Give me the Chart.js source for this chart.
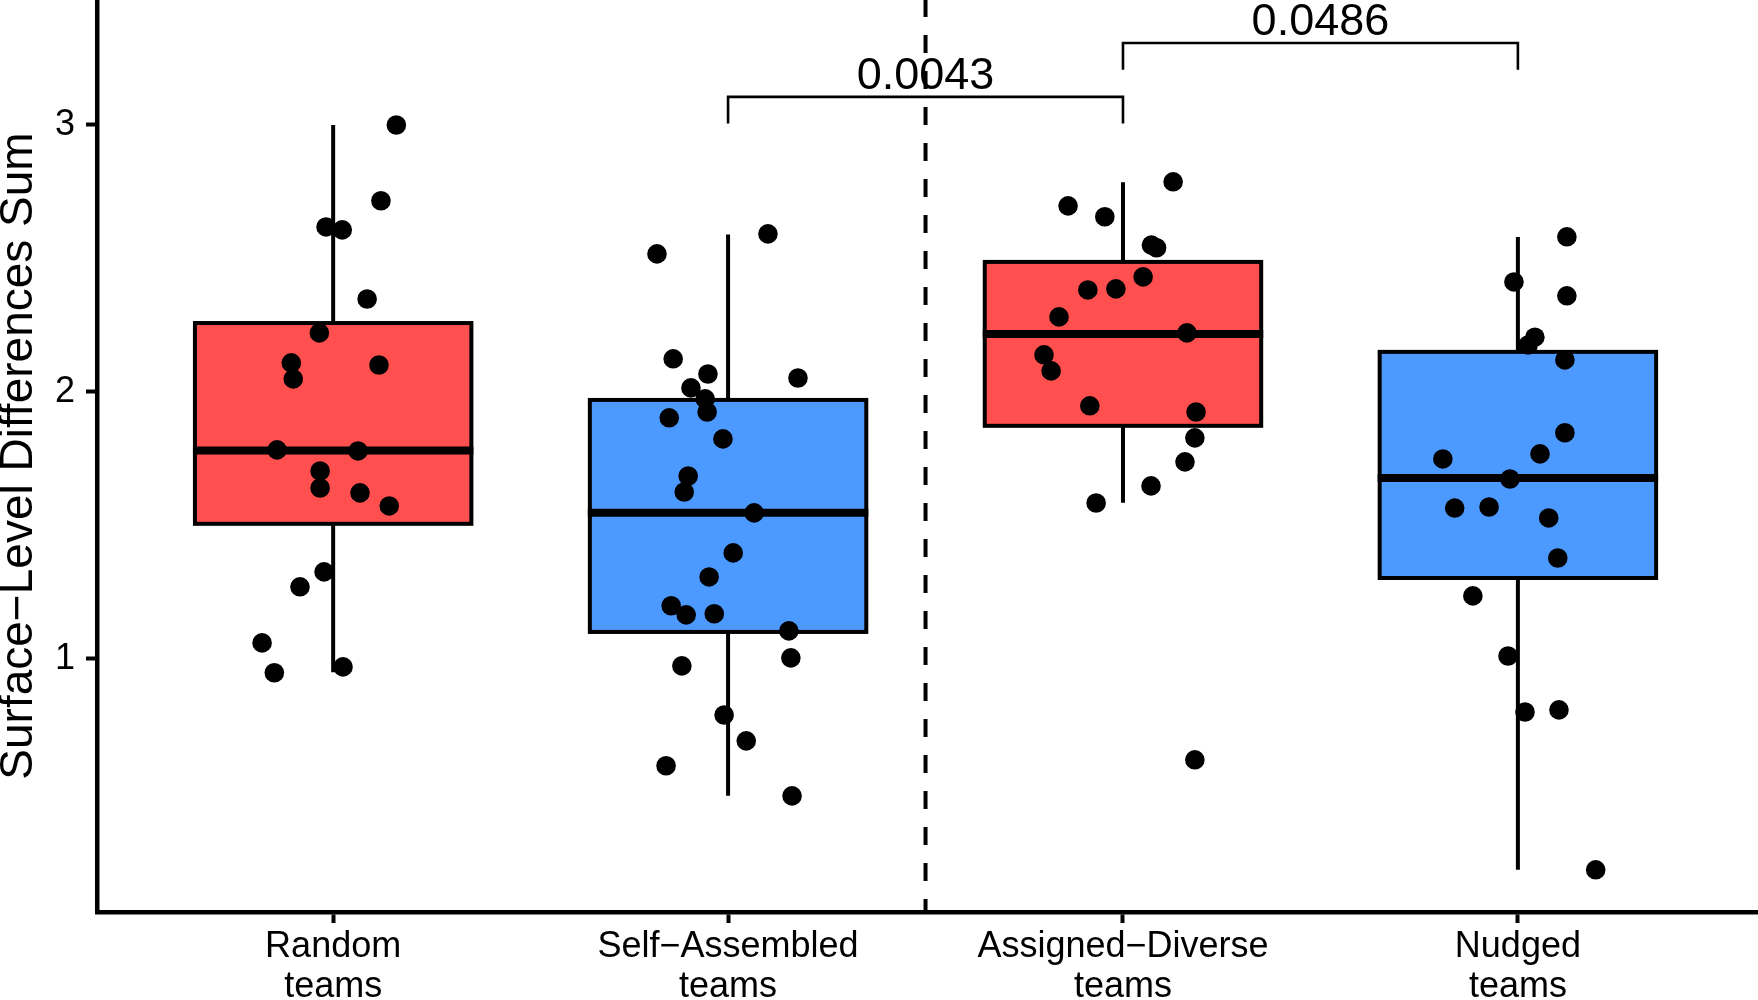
<!DOCTYPE html>
<html>
<head>
<meta charset="utf-8">
<script src="https://cdn.jsdelivr.net/npm/chart.js@4.4.1/dist/chart.umd.min.js"></script>
<style>
html,body{margin:0;padding:0;background:#fff;}
canvas{display:block;}
</style>
</head>
<body>
<canvas id="c" width="1758" height="1000"></canvas>
<script>
// ---------------- DATA ----------------
const categories = [
  ["Random", "teams"],
  ["Self\u2212Assembled", "teams"],
  ["Assigned\u2212Diverse", "teams"],
  ["Nudged", "teams"]
];
const xTicks = [1, 2, 3, 4];
const yTicks = [1, 2, 3];
const yAxisTitle = "Surface\u2212Level Differences Sum";

// box statistics
const whiskerLow  = [0.950, 0.487, 1.585, 0.210];
const q1          = [1.506, 1.101, 1.873, 1.303];
const median      = [1.781, 1.547, 2.217, 1.678];
const q3          = [2.258, 1.970, 2.487, 2.150];
const whiskerHigh = [3.000, 2.590, 2.785, 2.580];

// observed values per group
const randomValues = [3.00, 2.716, 2.618, 2.607, 2.348, 2.221, 2.109, 2.049, 2.101, 1.783,
                      1.779, 1.704, 1.640, 1.622, 1.573, 1.326, 1.270, 1.060, 0.948, 0.970];
const selfAssembledValues = [2.592, 2.517, 2.124, 2.067, 2.052, 2.015, 1.974, 1.925, 1.903, 1.824,
                             1.685, 1.625, 1.547, 1.397, 1.307, 1.199, 1.165, 1.169, 1.105, 1.004,
                             0.974, 0.790, 0.693, 0.600, 0.487];
const assignedDiverseValues = [2.787, 2.697, 2.656, 2.550, 2.540, 2.431, 2.382, 2.386, 2.281, 2.221,
                               2.139, 2.079, 1.948, 1.925, 1.828, 1.738, 1.648, 1.584, 0.622];
const nudgedValues = [2.581, 2.412, 2.360, 2.205, 2.176, 2.120, 1.847, 1.768, 1.749, 1.674,
                      1.565, 1.569, 1.528, 1.378, 1.236, 1.011, 0.801, 0.809, 0.210];

// horizontal jitter of each point (category units)
const randomJitter = [0.16, 0.121, -0.018, 0.023, 0.086, -0.035, -0.106, -0.101, 0.116, -0.142,
                      0.063, -0.033, -0.033, 0.068, 0.142, -0.023, -0.084, -0.18, -0.149, 0.025];
const selfAssembledJitter = [0.101, -0.18, -0.139, -0.051, 0.177, -0.094, -0.058, -0.053, -0.149, -0.013,
                             -0.101, -0.111, 0.066, 0.013, -0.048, -0.144, -0.106, -0.035, 0.154, 0.159,
                             -0.117, -0.01, 0.046, -0.157, 0.162];
const assignedDiverseJitter = [0.127, -0.139, -0.046, 0.072, 0.085, 0.051, -0.089, -0.018, -0.162, 0.162,
                               -0.2, -0.182, -0.084, 0.185, 0.182, 0.157, 0.071, -0.068, 0.182];
const nudgedJitter = [0.124, -0.01, 0.124, 0.043, 0.026, 0.119, 0.119, 0.056, -0.19, -0.02,
                      -0.16, -0.073, 0.078, 0.101, -0.114, -0.025, 0.018, 0.104, 0.197];

// significance brackets
const bracketFrom   = [2, 3];
const bracketTo     = [3, 4];
const bracketY      = [3.105, 3.307];
const bracketLabels = ["0.0043", "0.0486"];

const separatorAt = 2.5;
const yMin = 0.052, yMax = 3.468;
const xMin = 0.402, xMax = 4.608;

// ---------------- STYLE ----------------
const groupColors = ["#FF4F4F", "#4C9AFF", "#FF4F4F", "#4C9AFF"];
const FONT = "'Liberation Sans', Arial, Helvetica, sans-serif";
const boxHalfWidth = 0.35;
const bracketTick = 0.1;

const groupValues = [randomValues, selfAssembledValues, assignedDiverseValues, nudgedValues];
const groupJitter = [randomJitter, selfAssembledJitter, assignedDiverseJitter, nudgedJitter];

const boxPlugin = {
  id: 'boxes',
  beforeDatasetsDraw(chart) {
    const {ctx, chartArea} = chart;
    const x = chart.scales.x, y = chart.scales.y;
    ctx.save();
    // dashed separator
    ctx.strokeStyle = '#000';
    ctx.lineWidth = 4;
    ctx.lineCap = 'butt';
    ctx.setLineDash([18, 18]);
    ctx.lineDashOffset = 1;
    const sx = x.getPixelForValue(separatorAt);
    ctx.beginPath();
    ctx.moveTo(sx, chartArea.top);
    ctx.lineTo(sx, chartArea.bottom);
    ctx.stroke();
    ctx.setLineDash([]);

    for (let i = 0; i < categories.length; i++) {
      const c = xTicks[i];
      const cx = x.getPixelForValue(c);
      const xl = x.getPixelForValue(c - boxHalfWidth);
      const xr = x.getPixelForValue(c + boxHalfWidth);
      const yq1 = y.getPixelForValue(q1[i]);
      const yq3 = y.getPixelForValue(q3[i]);
      const ym = y.getPixelForValue(median[i]);
      const ylo = y.getPixelForValue(whiskerLow[i]);
      const yhi = y.getPixelForValue(whiskerHigh[i]);
      // whiskers
      ctx.strokeStyle = '#000';
      ctx.lineWidth = 4;
      ctx.beginPath();
      ctx.moveTo(cx, yhi); ctx.lineTo(cx, yq3);
      ctx.moveTo(cx, yq1); ctx.lineTo(cx, ylo);
      ctx.stroke();
      // box
      ctx.fillStyle = groupColors[i];
      ctx.fillRect(xl, yq3, xr - xl, yq1 - yq3);
      ctx.lineJoin = 'miter';
      ctx.strokeRect(xl, yq3, xr - xl, yq1 - yq3);
      // median
      ctx.lineWidth = 8;
      ctx.beginPath();
      ctx.moveTo(xl - 2, ym); ctx.lineTo(xr + 2, ym);
      ctx.stroke();
    }
    ctx.restore();
  },
  afterDatasetsDraw(chart) {
    const {ctx} = chart;
    const x = chart.scales.x, y = chart.scales.y;
    ctx.save();
    ctx.strokeStyle = '#000';
    ctx.fillStyle = '#000';
    ctx.lineWidth = 2.6;
    ctx.lineJoin = 'miter';
    ctx.font = "45px " + FONT;
    ctx.textAlign = 'center';
    ctx.textBaseline = 'alphabetic';
    for (let k = 0; k < bracketLabels.length; k++) {
      const x1 = x.getPixelForValue(bracketFrom[k]);
      const x2 = x.getPixelForValue(bracketTo[k]);
      const yb = y.getPixelForValue(bracketY[k]);
      const yt = y.getPixelForValue(bracketY[k] - bracketTick);
      ctx.beginPath();
      ctx.moveTo(x1, yt); ctx.lineTo(x1, yb); ctx.lineTo(x2, yb); ctx.lineTo(x2, yt);
      ctx.stroke();
      ctx.fillText(bracketLabels[k], (x1 + x2) / 2, yb - 8);
    }
    ctx.restore();
  }
};

new Chart(document.getElementById('c'), {
  type: 'scatter',
  data: {
    datasets: groupValues.map((vals, i) => ({
      data: vals.map((v, j) => ({x: xTicks[i] + groupJitter[i][j], y: v})),
      pointRadius: 9.8,
      pointBackgroundColor: '#000',
      pointBorderWidth: 0,
      showLine: false,
      clip: false
    }))
  },
  options: {
    responsive: false,
    animation: false,
    events: [],
    devicePixelRatio: 1,
    layout: {padding: 0, autoPadding: false},
    plugins: {legend: {display: false}, tooltip: {enabled: false}},
    scales: {
      x: {
        type: 'linear',
        position: 'bottom',
        min: xMin, max: xMax,
        afterBuildTicks(s) { s.ticks = xTicks.map(v => ({value: v})); },
        ticks: {
          callback: (v) => categories[xTicks.indexOf(v)],
          color: '#000',
          font: {family: FONT, size: 36, lineHeight: 1.11},
          padding: 4.5,
          maxRotation: 0,
          autoSkip: false
        },
        grid: {display: true, drawOnChartArea: false, drawTicks: true, tickLength: 11, tickWidth: 4, tickColor: '#000'},
        border: {display: true, color: '#000', width: 4.5},
        afterFit(s) { s.height = 88; s.paddingLeft = 0; s.paddingRight = 0; }
      },
      y: {
        type: 'linear',
        position: 'left',
        min: yMin, max: yMax,
        afterBuildTicks(s) { s.ticks = yTicks.map(v => ({value: v})); },
        ticks: {
          callback: (v) => String(v),
          color: '#000',
          font: {family: FONT, size: 36},
          padding: 11
        },
        grid: {display: true, drawOnChartArea: false, drawTicks: true, tickLength: 11, tickWidth: 4, tickColor: '#000'},
        border: {display: true, color: '#000', width: 4.5},
        title: {
          display: true,
          text: yAxisTitle,
          color: '#000',
          font: {family: FONT, size: 46, lineHeight: 0.8},
          padding: {top: 1, bottom: 0}
        },
        afterFit(s) { s.width = 97; s.paddingTop = 0; s.paddingBottom = 0; }
      }
    }
  },
  plugins: [boxPlugin]
});
</script>
</body>
</html>
